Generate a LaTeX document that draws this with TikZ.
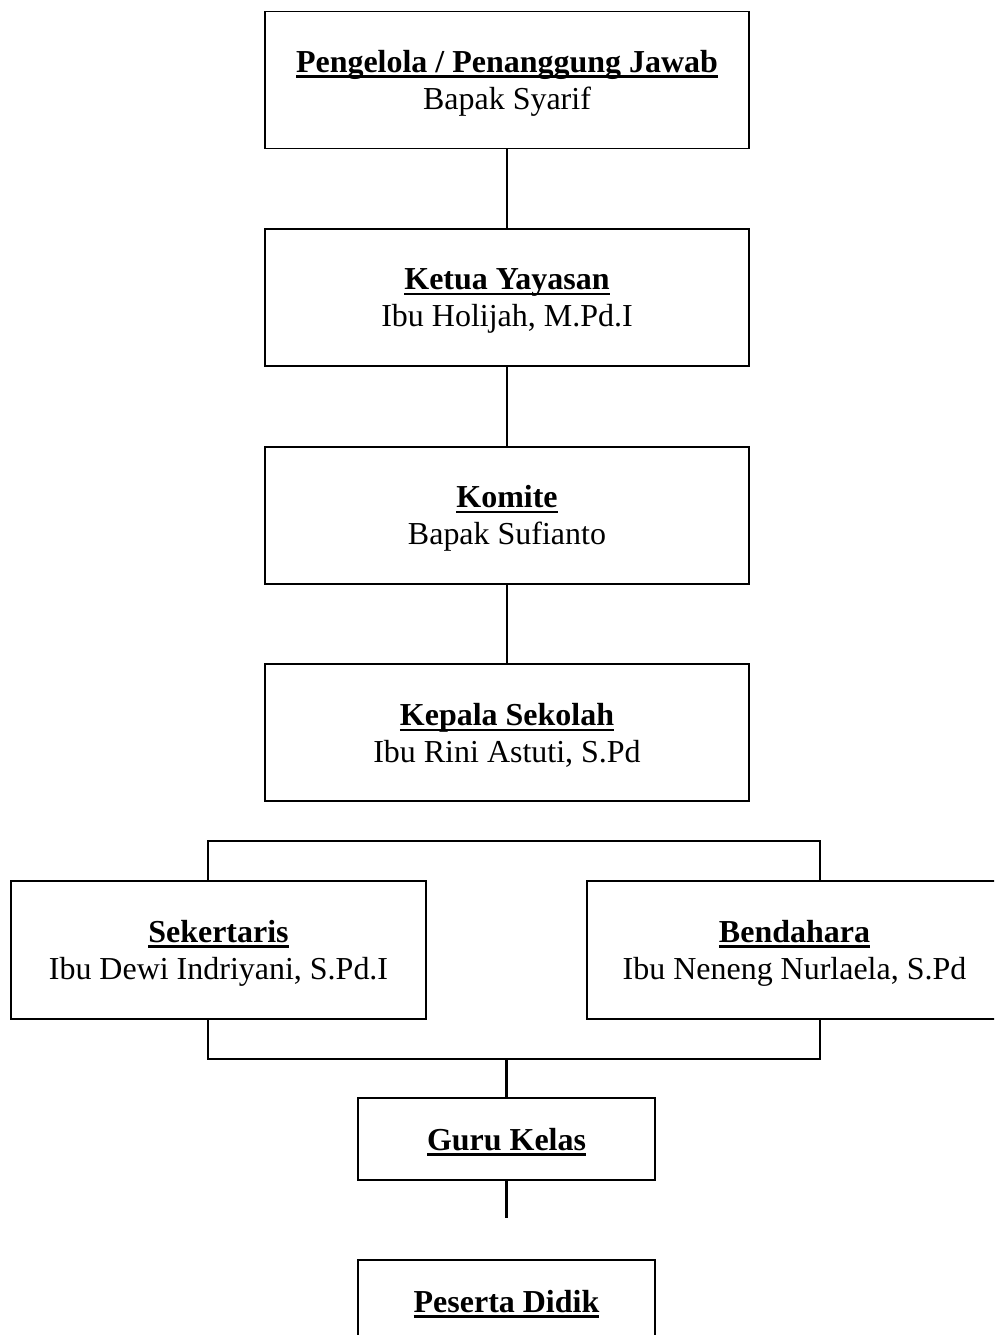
\documentclass[tikz,border=0pt]{standalone}
\usepackage{fontspec}
\setmainfont{Liberation Serif}
\usetikzlibrary{positioning}

\newcommand{\judul}[1]{\setbox0\hbox{\textbf{#1}}\leavevmode\rule{0pt}{16pt}\rlap{\rule[-3.2pt]{\wd0}{1.4pt}}\box0}

\begin{document}
\begin{tikzpicture}[x=0.02cm, y=-0.02cm,
	kotak/.style={draw, line width=0.7pt, align=center, inner sep=0pt,
		font=\fontsize{18.2}{21}\selectfont},
	besar/.style={kotak, minimum width=9.68cm, minimum height=2.74cm},
	samping/.style={kotak, minimum width=8.3cm, minimum height=2.76cm},
	kecil/.style={kotak, minimum width=5.94cm, minimum height=1.64cm},
	garis/.style={line width=1.2pt}]
	\clip (0,0) rectangle (994,1335);

	% jabatan utama
	\node[besar] (pengelola) at (507,80) {\judul{Pengelola / Penanggung Jawab}\\Bapak Syarif};
	\node[besar] (ketua) at (507,297.5) {\judul{Ketua Yayasan}\\Ibu Holijah, M.Pd.I};
	\node[besar] (komite) at (507,515.5) {\judul{Komite}\\Bapak Sufianto};
	\node[besar] (kepsek) at (507,732.5) {\judul{Kepala Sekolah}\\Ibu Rini Astuti, S.Pd};

	% sekertaris dan bendahara
	\node[samping] (sek) at (218.5,950) {\judul{Sekertaris}\\Ibu Dewi Indriyani, S.Pd.I};
	\node[samping] (ben) at (794.5,950) {\judul{Bendahara}\\Ibu Neneng Nurlaela, S.Pd};

	\node[kecil] (guru) at (506.5,1139) {\judul{Guru Kelas}};
	\node[kecil] (peserta) at (506.5,1301) {\judul{Peserta Didik}};

	\coordinate (kiri) at (208,841);
	\coordinate (kanan) at (820,841);
	\coordinate (kiribawah) at (208,1059);
	\coordinate (kananbawah) at (820,1059);
	\coordinate (ujung) at (506.5,1218);

	\draw[garis] (pengelola) -- (ketua);
	\draw[garis] (ketua) -- (komite);
	\draw[garis] (komite) -- (kepsek);
	\draw[garis] (sek.north -| kiri) -- (kiri) -- (kanan) -- (ben.north -| kanan);
	\draw[garis] (sek.south -| kiribawah) -- (kiribawah) -- (kananbawah) -- (ben.south -| kananbawah);
	\draw[garis] (guru.north) -- (guru.north |- kiribawah);
	\draw[garis] (guru.south) -- (ujung);
\end{tikzpicture}
\end{document}
